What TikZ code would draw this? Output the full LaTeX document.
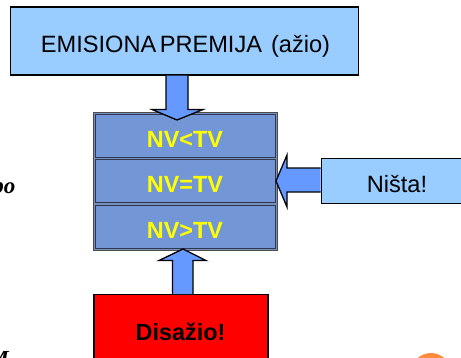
\documentclass[tikz,border=0pt]{standalone}
\usepackage{fontspec}
\setmainfont{Liberation Sans}
\newfontfamily\serifit{Liberation Serif}
\definecolor{paleblue}{HTML}{99CCFF}
\definecolor{stackblue}{HTML}{7397D6}
\definecolor{arrowblue}{HTML}{6699FF}
\definecolor{nvyellow}{HTML}{FFFF00}
\definecolor{disred}{HTML}{FF0000}
\definecolor{orangedot}{HTML}{FF8C3C}
\definecolor{stackline}{HTML}{2F3650}
\tikzset{
  px/.style={x=1pt,y=-1pt},
  lightbox/.style={draw=black,line width=1.3pt,fill=paleblue,inner sep=0pt},
  stackouter/.style={draw=black!70,line width=1pt,fill=stackblue!70!gray},
  stackbox/.style={draw=stackline,line width=1pt,fill=stackblue,inner sep=0pt},
  nvlabel/.style={anchor=base,inner sep=0pt,text=nvyellow,font=\bfseries\fontsize{23.4}{26}\selectfont},
  boldlabel/.style={anchor=base,inner sep=0pt,font=\bfseries\fontsize{23.4}{26}\selectfont},
  plainlabel/.style={anchor=base,inner sep=0pt,font=\fontsize{23.6}{26}\selectfont},
  fragment/.style={anchor=base east,inner sep=0pt,font=\serifit\itshape\bfseries\fontsize{23}{26}\selectfont},
  fatarrow/.style={draw=black,line width=1.3pt,fill=arrowblue,miter limit=10},
}
\begin{document}
\begin{tikzpicture}[px]
\useasboundingbox (0,0) rectangle (461,357);
\begin{scope}
\clip (0,0) rectangle (461,357);
\draw[stackouter] (93,112) rectangle (277,250);
\node[stackbox,minimum width=180pt,minimum height=43pt] (lt) at (185,135.5) {};
\node[stackbox,minimum width=180pt,minimum height=43pt] (eq) at (185,181) {};
\node[stackbox,minimum width=180pt,minimum height=43pt] (gt) at (185,226.5) {};
\node[nvlabel] (ltt) at (185,147) {NV<TV};
\node[nvlabel] (eqt) at (185,192) {NV=TV};
\node[nvlabel] (gtt) at (185,238) {NV>TV};
\node[lightbox,minimum width=348pt,minimum height=68pt] (top) at (184.5,41) {};
\node[plainlabel] (topt) at (185.5,52) {EMISIONA\hspace{3.5pt}PREMIJA\hspace{9pt}(ažio)};
\node[lightbox,minimum width=160pt,minimum height=45pt,anchor=west] (nista) at (320.5,181) {};
\node[plainlabel] (nistat) at (397,192) {Ništa!};
\node[draw=black,line width=1.3pt,fill=disred,inner sep=0pt,minimum width=174pt,minimum height=80pt,anchor=north] (dis) at (181,294) {};
\node[boldlabel] (dist) at (180.5,340) {Disažio!};
\draw[fatarrow] (166,0 |- top.south) -- (166,109.5) -- (152,109.5) -- (177,120) -- (203,109.5) -- (188,109.5) -- (188,0 |- top.south);
\draw[fatarrow] (nista.west |- 0,168) -- (287,168) -- (287,155) -- (276,181) -- (287,207) -- (287,192) -- (nista.west |- 0,192);
\draw[fatarrow] (172.5,0 |- dis.north) -- (172.5,260.5) -- (159,260.5) -- (183,249) -- (206,260.5) -- (193,260.5) -- (193,0 |- dis.north);
\fill[orangedot] (431,373) circle (20);
\node[fragment] (po) at (15.5,193) {po};
\node[fragment] (mfrag) at (9,366) {M};
\end{scope}
\end{tikzpicture}
\end{document}
